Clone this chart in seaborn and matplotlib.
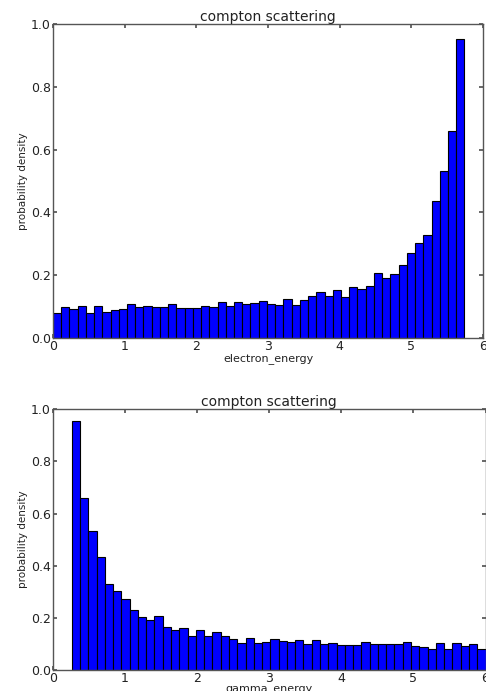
"""
Compton scattering: electron and gamma energy histograms (probability density).
"""
import numpy as np
import pandas as pd
import matplotlib
matplotlib.use("Agg")
import matplotlib.pyplot as plt
import seaborn as sns

# bar heights (50 bins each)
electron_density = [
    0.078, 0.099, 0.092, 0.103, 0.078, 0.103, 0.081, 0.090, 0.092, 0.107,
    0.099, 0.101, 0.099, 0.099, 0.107, 0.095, 0.095, 0.095, 0.103, 0.099,
    0.114, 0.101, 0.114, 0.109, 0.112, 0.117, 0.107, 0.105, 0.123, 0.105,
    0.120, 0.133, 0.145, 0.133, 0.153, 0.130, 0.162, 0.156, 0.165, 0.207,
    0.192, 0.203, 0.231, 0.271, 0.303, 0.328, 0.436, 0.532, 0.660, 0.954,
]
gamma_density = [
    0.954, 0.661, 0.534, 0.435, 0.330, 0.303, 0.271, 0.230, 0.204, 0.193,
    0.207, 0.164, 0.156, 0.161, 0.131, 0.154, 0.133, 0.146, 0.133, 0.120,
    0.106, 0.124, 0.106, 0.109, 0.118, 0.113, 0.110, 0.114, 0.102, 0.114,
    0.100, 0.104, 0.096, 0.096, 0.096, 0.109, 0.100, 0.100, 0.101, 0.100,
    0.109, 0.093, 0.091, 0.081, 0.104, 0.081, 0.104, 0.093, 0.100, 0.081,
]
electron_range = (0.0, 5.74)
gamma_range = (0.26, 6.0)
n_bins = 50

sns.set_theme(style="white")
plt.rcParams.update({
    'font.family': ['DejaVu Sans'],
    'axes.edgecolor': '#555555',
    'axes.linewidth': 1.0,
    'xtick.direction': 'in',
    'ytick.direction': 'in',
    'xtick.top': True,
    'ytick.right': True,
    'xtick.bottom': True,
    'ytick.left': True,
    'xtick.color': '#555555',
    'ytick.color': '#555555',
    'xtick.labelcolor': '#222222',
    'ytick.labelcolor': '#222222',
    'xtick.major.size': 3,
    'ytick.major.size': 3,
    'xtick.labelsize': 9,
    'ytick.labelsize': 9,
})

fig = plt.figure(figsize=(4.86, 6.91), dpi=100)
ax_top = fig.add_axes([0.109, 0.511, 0.885, 0.454])
ax_bot = fig.add_axes([0.109, 0.030, 0.890, 0.378])


def draw_hist(ax, density, lo, hi, xlabel):
    width = (hi - lo) / n_bins
    centers = lo + width * (np.arange(n_bins) + 0.5)
    frame = pd.DataFrame({'energy': centers, 'density': density})
    sns.histplot(data=frame, x='energy', weights='density', bins=n_bins,
                 binrange=(lo, hi), stat='count', ax=ax,
                 color='#0000ff', edgecolor='black', linewidth=0.8, alpha=1.0)
    ax.set_xlim(0, 6)
    ax.set_ylim(0, 1.0)
    ax.set_xticks(range(0, 7))
    yt = np.arange(0, 1.01, 0.2)
    ax.set_yticks(yt)
    ax.set_yticklabels([f"{v:.1f}" for v in yt])
    ax.set_title("compton scattering", fontsize=10, pad=1, color='#222222')
    ax.set_xlabel(xlabel, fontsize=8, labelpad=0, color='#222222')
    ax.set_ylabel("probability density", fontsize=7.5, labelpad=2, color='#222222')
    ax.tick_params(pad=1.5)


draw_hist(ax_top, electron_density, *electron_range, "electron_energy")
draw_hist(ax_bot, gamma_density, *gamma_range, "gamma_energy")

fig.savefig("out.png", dpi=100, facecolor='white')
